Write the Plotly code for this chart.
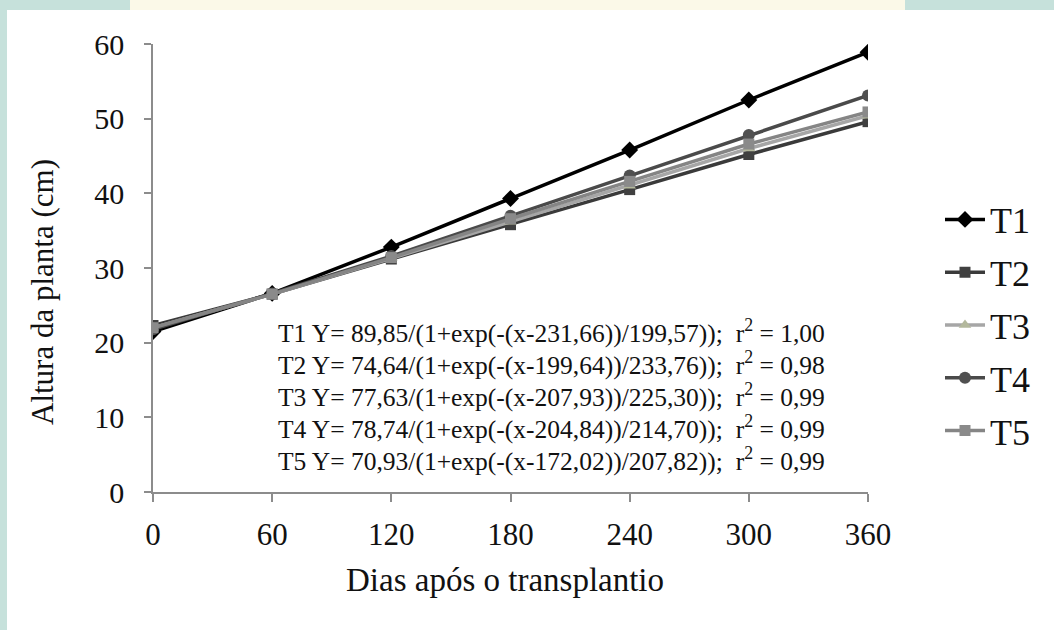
import plotly.graph_objects as go

days = [0, 60, 120, 180, 240, 300, 360]
t1 = [21.5, 26.6, 32.8, 39.3, 45.8, 52.5, 58.9]
t2 = [22.3, 26.5, 31.2, 35.8, 40.5, 45.2, 49.6]
t3 = [22.0, 26.5, 31.3, 36.2, 41.0, 46.0, 50.4]
t4 = [21.8, 26.6, 31.6, 37.0, 42.4, 47.8, 53.1]
t5 = [22.0, 26.5, 31.4, 36.6, 41.6, 46.6, 50.9]

series_names = ["T1", "T2", "T3", "T4", "T5"]
series_values = [t1, t2, t3, t4, t5]
line_colors = ["#000000", "#3a3a3a", "#a6a6a6", "#4a4a4a", "#858585"]
marker_colors = ["#000000", "#404040", "#b3b89c", "#505050", "#8a8a8a"]
marker_symbols = ["diamond", "square", "triangle-up", "circle", "square"]
marker_sizes = [13, 11, 11, 12, 11]

equations = [
    "T1 Y= 89,85/(1+exp(-(x-231,66))/199,57));  r<sup>2</sup> = 1,00",
    "T2 Y= 74,64/(1+exp(-(x-199,64))/233,76));  r<sup>2</sup> = 0,98",
    "T3 Y= 77,63/(1+exp(-(x-207,93))/225,30));  r<sup>2</sup> = 0,99",
    "T4 Y= 78,74/(1+exp(-(x-204,84))/214,70));  r<sup>2</sup> = 0,99",
    "T5 Y= 70,93/(1+exp(-(x-172,02))/207,82));  r<sup>2</sup> = 0,99",
]

W, H = 1054, 630
L, R, T, B = 153, 186, 44, 138
pw, ph = W - L - R, H - T - B

def px(x):
    return (x - L) / pw

def py(y):
    return (H - B - y) / ph

FONT = "Times New Roman, Liberation Serif, DejaVu Serif, serif"

fig = go.Figure()
for name, vals, lc, mc, sym, ms in zip(series_names, series_values, line_colors,
                                       marker_colors, marker_symbols, marker_sizes):
    fig.add_trace(go.Scatter(
        x=days, y=vals, name=name, mode="lines+markers",
        line=dict(color=lc, width=3.5),
        marker=dict(symbol=sym, size=ms, color=mc, line=dict(width=0)),
        legendgroup=name,
    ))

annotations = []
eq_y = [331, 363, 395, 427, 459]
for txt, yy in zip(equations, eq_y):
    annotations.append(dict(
        text=txt, x=px(276), y=py(yy), xref="paper", yref="paper",
        xanchor="left", yanchor="middle", showarrow=False,
        font=dict(family=FONT, size=25.5, color="#111111"),
    ))
annotations.append(dict(
    text="Dias após o transplantio", x=px(505), y=py(580), xref="paper", yref="paper",
    xanchor="center", yanchor="middle", showarrow=False,
    font=dict(family=FONT, size=33, color="#111111"),
))
annotations.append(dict(
    text="Altura da planta (cm)", x=px(42), y=py(292), xref="paper", yref="paper",
    xanchor="center", yanchor="middle", showarrow=False, textangle=-90,
    font=dict(family=FONT, size=31, color="#111111"),
))

shapes = [
    dict(type="rect", xref="paper", yref="paper", layer="below",
         x0=px(7), x1=px(W + 5), y0=py(H + 5), y1=py(10),
         fillcolor="white", line=dict(width=0)),
    dict(type="rect", xref="paper", yref="paper", layer="below",
         x0=px(130), x1=px(905), y0=py(10), y1=py(-5),
         fillcolor="#fbf9e8", line=dict(width=0)),
]

fig.update_layout(
    width=W, height=H,
    margin=dict(l=L, r=R, t=T, b=B, pad=0),
    paper_bgcolor="#c6e1db",
    plot_bgcolor="white",
    showlegend=True,
    legend=dict(
        x=px(940), y=py(325), xanchor="left", yanchor="middle",
        xref="paper", yref="paper",
        font=dict(family=FONT, size=36, color="#111111"),
        bgcolor="rgba(0,0,0,0)", traceorder="grouped", tracegroupgap=3,
        itemwidth=40,
    ),
    annotations=annotations,
    shapes=shapes,
    xaxis=dict(
        range=[0, 360], tickvals=days, ticktext=[str(d) for d in days],
        showgrid=False, zeroline=False, showline=True, linecolor="#8c8c8c", linewidth=2,
        ticks="outside", ticklen=8, tickwidth=1.5, tickcolor="#8c8c8c",
        tickfont=dict(family=FONT, size=31, color="#111111"),
        ticklabelstandoff=6,
    ),
    yaxis=dict(
        range=[0, 60], tickvals=[0, 10, 20, 30, 40, 50, 60],
        showgrid=False, zeroline=False, showline=True, linecolor="#8c8c8c", linewidth=1.5,
        ticks="outside", ticklen=7, tickwidth=1.5, tickcolor="#8c8c8c",
        tickfont=dict(family=FONT, size=30, color="#111111"),
        ticklabelstandoff=14,
    ),
)

fig.write_html(
    "out.html",
    config={"displayModeBar": False},
    post_script="document.body.style.margin='0';document.body.style.overflow='hidden';",
)
